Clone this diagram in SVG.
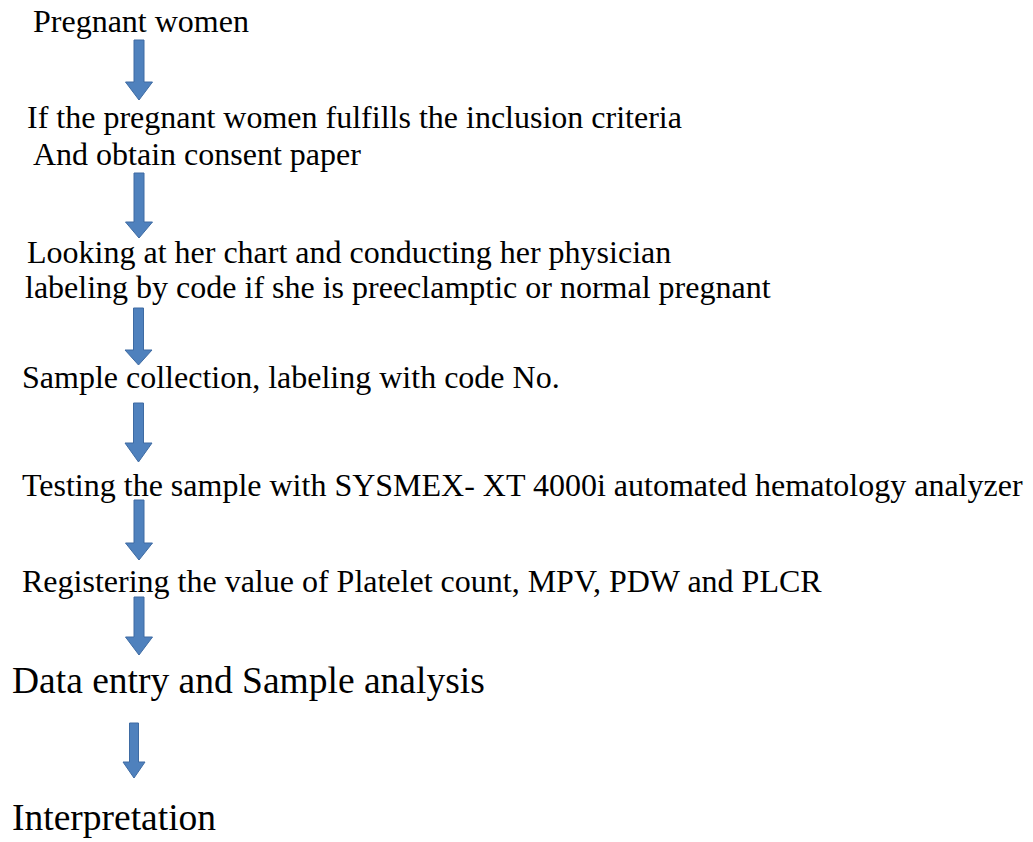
<svg xmlns="http://www.w3.org/2000/svg" width="1033" height="842" viewBox="0 0 1033 842">
<style>
  text { font-family: "Liberation Serif", "Times New Roman", serif; fill: #000; }
  .t { font-size: 32px; }
  .b { font-size: 37.5px; }
  .arr { fill: #4F81BD; stroke: #3E6BA3; stroke-width: 1; }
</style>
<rect width="1033" height="842" fill="#fff"/>
<g id="n1"><text class="t" x="33" y="32">Pregnant women</text></g>
<g id="n2">
  <text class="t" x="27" y="128">If the pregnant women fulfills the inclusion criteria</text>
  <text class="t" x="33" y="165"> And obtain consent paper</text>
</g>
<g id="n3">
  <text class="t" x="27" y="263">Looking at her chart and conducting her physician</text>
  <text class="t" x="25" y="298">labeling by code if she is preeclamptic or normal pregnant</text>
</g>
<g id="n4"><text class="t" x="22" y="388">Sample collection, labeling with code No.</text></g>
<g id="n5"><text class="t" x="22" y="496">Testing the sample with SYSMEX- XT 4000i automated hematology analyzer</text></g>
<g id="n6"><text class="t" x="22" y="592">Registering the value of Platelet count, MPV, PDW and PLCR</text></g>
<g id="n7"><text class="b" x="12" y="693">Data entry and Sample analysis</text></g>
<g id="n8"><text class="b" x="12" y="830">Interpretation</text></g>
<g id="connectors">
  <path class="arr" d="M134,40 H144 V82 H152.5 L139,100 L125.5,82 H134 Z"/>
  <path class="arr" d="M134,173 H144 V222 H152.5 L139,238 L125.5,222 H134 Z"/>
  <path class="arr" d="M133.5,308 H143.5 V350 H152 L138.5,365 L125,350 H133.5 Z"/>
  <path class="arr" d="M133.5,403 H143.5 V443 H152 L138.5,462 L125,443 H133.5 Z"/>
  <path class="arr" d="M134,500 H144 V543 H152.5 L139,560 L125.5,543 H134 Z"/>
  <path class="arr" d="M134,597 H144 V637 H152.5 L139,655 L125.5,637 H134 Z"/>
  <path class="arr" d="M129.5,723 H138.5 V762 H145 L134,778 L123,762 H129.5 Z"/>
</g>
</svg>
